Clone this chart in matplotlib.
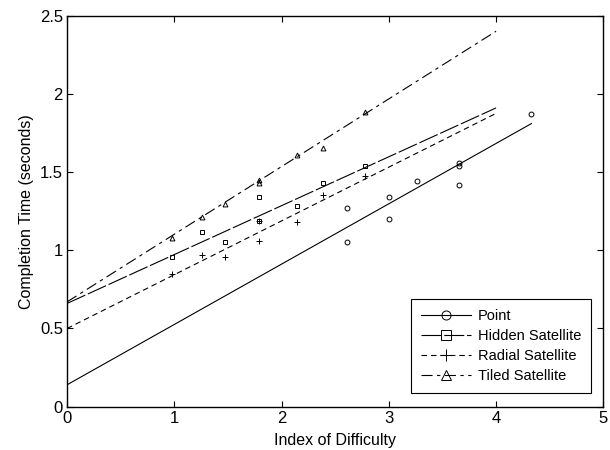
import numpy as np
import matplotlib
matplotlib.use("Agg")
from matplotlib import pyplot as plt
from matplotlib.lines import Line2D

plt.rcParams['font.family'] = ['Liberation Sans', 'DejaVu Sans']
plt.rcParams['font.size'] = 11

# measured points
point_x = [2.61, 2.61, 3.0, 3.0, 3.26, 3.65, 3.65, 3.65, 4.33]
point_y = [1.05, 1.27, 1.20, 1.34, 1.44, 1.42, 1.54, 1.56, 1.87]

sat_x = [0.98, 1.26, 1.47, 1.79, 1.79, 2.14, 2.39, 2.78]
hidden_y = [0.955, 1.115, 1.05, 1.19, 1.34, 1.28, 1.43, 1.54]
radial_y = [0.85, 0.97, 0.955, 1.06, 1.19, 1.18, 1.35, 1.475]
tiled_y = [1.077, 1.215, 1.296, 1.43, 1.45, 1.61, 1.656, 1.885]

# fitted lines (end points)
point_fit_x = [0, 4.33]
point_fit_y = [0.14, 1.81]
sat_fit_x = [0, 4]
hidden_fit_y = [0.66, 1.91]
radial_fit_y = [0.50, 1.875]
tiled_fit_y = [0.67, 2.40]

names = ['Point', 'Hidden Satellite', 'Radial Satellite', 'Tiled Satellite']
markers = ['o', 's', '+', '^']
styles = ['-', (0, (18, 2.5)), (0, (5, 3.5)), (0, (10, 4, 3, 4))]

fig = plt.figure(figsize=(6.1, 4.5), dpi=100)
ax = fig.add_axes([0.11, 0.0963, 0.879, 0.869])

series = [(point_x, point_y, point_fit_x, point_fit_y),
          (sat_x, hidden_y, sat_fit_x, hidden_fit_y),
          (sat_x, radial_y, sat_fit_x, radial_fit_y),
          (sat_x, tiled_y, sat_fit_x, tiled_fit_y)]

handles = []
for (xs, ys, fx, fy), m, ls, name in zip(series, markers, styles, names):
    ax.plot(fx, fy, color='black', linestyle=ls, linewidth=0.8)
    ms = 5 if m == '+' else 3.5
    ax.plot(xs, ys, linestyle='none', marker=m, markersize=ms,
            markerfacecolor='none', markeredgecolor='black', markeredgewidth=0.7)
    handles.append(Line2D([], [], color='black', linestyle=ls, linewidth=0.8,
                          marker=m, markersize=8 if m == '+' else 6.5,
                          markerfacecolor='none', markeredgewidth=0.7, label=name))

ax.set_xlim(0, 5)
ax.set_ylim(0, 2.5)
ax.set_xticks([0, 1, 2, 3, 4, 5])
ax.set_yticks([0, 0.5, 1, 1.5, 2, 2.5])
ax.set_yticklabels(['0', '0.5', '1', '1.5', '2', '2.5'])
ax.tick_params(direction='in', top=True, right=True, length=4, width=0.8,
               pad=3, labelsize=12)
for s in ax.spines.values():
    s.set_linewidth(1.0)

ax.set_xlabel('Index of Difficulty', fontsize=11.5, labelpad=5)
ax.set_ylabel('Completion Time (seconds)', fontsize=11.5, labelpad=4)

leg = ax.legend(handles=handles, loc='lower right', fancybox=False,
                edgecolor='black', framealpha=1, handlelength=3.4,
                handletextpad=0.5, fontsize=10.5, borderaxespad=0,
                borderpad=0.7, labelspacing=0.4, bbox_to_anchor=(0.978, 0.035))
leg.get_frame().set_linewidth(0.8)

fig.savefig('out.png', dpi=100)
